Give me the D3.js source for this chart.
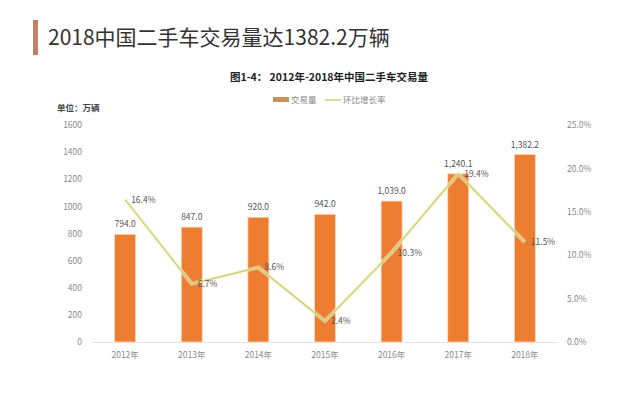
<!DOCTYPE html>
<html>
<head>
<meta charset="utf-8">
<script src="https://cdn.jsdelivr.net/npm/d3@7"></script>
<style>
  body { margin: 0; background: #fff; }
  svg { display: block; font-family: "Noto Sans CJK SC", "Noto Sans", sans-serif; }
</style>
</head>
<body>
<div id="chart"></div>
<script>
// data
const years = ["2012年", "2013年", "2014年", "2015年", "2016年", "2017年", "2018年"];
const volume = [794.0, 847.0, 920.0, 942.0, 1039.0, 1240.1, 1382.2];
const growth = [16.4, 6.7, 8.6, 2.4, 10.3, 19.4, 11.5];
const leftTicks = [0, 200, 400, 600, 800, 1000, 1200, 1400, 1600];
const rightTicks = [0, 5, 10, 15, 20, 25];

const width = 640, height = 395;
const barColor = "#ed7d31";
const lineColor = "#c8d27a";

const svg = d3.select("#chart").append("svg")
    .attr("width", width)
    .attr("height", height);

// heading
svg.append("rect")
    .attr("x", 33).attr("y", 20)
    .attr("width", 5).attr("height", 35)
    .attr("fill", "#c27f69");
svg.append("text")
    .attr("x", 48).attr("y", 45)
    .attr("font-size", 21)
    .attr("fill", "#333")
    .text("2018中国二手车交易量达1382.2万辆");

svg.append("text")
    .attr("x", 329).attr("y", 81)
    .attr("text-anchor", "middle")
    .attr("font-size", 10.5)
    .attr("font-weight", "bold")
    .attr("fill", "#222")
    .text("图1-4：  2012年-2018年中国二手车交易量");

// legend
let lg = svg.append("g").attr("font-size", 8.5).attr("fill", "#888");
lg.append("rect").attr("x", 273).attr("y", 97).attr("width", 16).attr("height", 5).attr("fill", "#c9905a");
lg.append("text").attr("x", 291).attr("y", 103).text("交易量");
lg.append("line").attr("x1", 325).attr("x2", 341).attr("y1", 100).attr("y2", 100)
    .attr("stroke", lineColor).attr("stroke-width", 1.5);
lg.append("text").attr("x", 343).attr("y", 103).text("环比增长率");

svg.append("text")
    .attr("x", 57).attr("y", 111)
    .attr("font-size", 8.5)
    .attr("font-weight", "bold")
    .attr("fill", "#444")
    .text("单位：万辆");

// scales
const x = d3.scaleBand().domain(years).range([92, 558]).paddingInner(0.685).paddingOuter(0.34);
const y = d3.scaleLinear().domain([0, 1600]).range([342, 125]);
const y2 = d3.scaleLinear().domain([0, 25]).range([342, 125]);

// axes
const leftAxis = svg.append("g")
    .attr("transform", "translate(84,0)")
    .call(d3.axisLeft(y).tickValues(leftTicks).tickSize(0).tickPadding(2).tickFormat(d3.format("d")));
const rightAxis = svg.append("g")
    .attr("transform", "translate(566,0)")
    .call(d3.axisRight(y2).tickValues(rightTicks).tickSize(0).tickPadding(1)
        .tickFormat(d => d.toFixed(1) + "%"));
const bottomAxis = svg.append("g")
    .attr("transform", "translate(0,342)")
    .call(d3.axisBottom(x).tickSize(0).tickPadding(10));

[leftAxis, rightAxis, bottomAxis].forEach(g => {
    g.select(".domain").remove();
    g.selectAll("text").attr("font-size", 8.5).attr("fill", "#8a8a8a")
        .attr("font-family", "\"Noto Sans CJK SC\", sans-serif");
});

svg.append("line")
    .attr("x1", 92).attr("x2", 558)
    .attr("y1", 342.5).attr("y2", 342.5)
    .attr("stroke", "#e4e4e4");

// bars
svg.append("g").selectAll("rect").data(volume).enter()
    .append("rect")
    .attr("x", (d, i) => x(years[i]))
    .attr("y", d => y(d))
    .attr("width", x.bandwidth())
    .attr("height", d => y(0) - y(d))
    .attr("fill", barColor)
    .attr("stroke", "#fbd9bd")
    .attr("stroke-width", 0.8);

svg.append("g").selectAll("text").data(volume).enter()
    .append("text")
    .attr("x", (d, i) => x(years[i]) + x.bandwidth() / 2)
    .attr("y", d => y(d) - 7)
    .attr("text-anchor", "middle")
    .attr("font-size", 8.5)
    .attr("fill", "#555")
    .text(d => d3.format(",.1f")(d));

// growth line
const line = d3.line()
    .x((d, i) => x(years[i]) + x.bandwidth() / 2)
    .y(d => y2(d));

svg.append("path")
    .datum(growth)
    .attr("d", line)
    .attr("fill", "none")
    .attr("stroke", "#fcf3c4")
    .attr("stroke-width", 4)
    .attr("stroke-opacity", 0.6);
svg.append("path")
    .datum(growth)
    .attr("d", line)
    .attr("fill", "none")
    .attr("stroke", lineColor)
    .attr("stroke-width", 1.5);

svg.append("g").selectAll("text").data(growth).enter()
    .append("text")
    .attr("x", (d, i) => x(years[i]) + x.bandwidth() / 2 + 6)
    .attr("y", d => y2(d) + 3)
    .attr("font-size", 8.5)
    .attr("fill", "#555")
    .text(d => d.toFixed(1) + "%");
</script>
</body>
</html>
